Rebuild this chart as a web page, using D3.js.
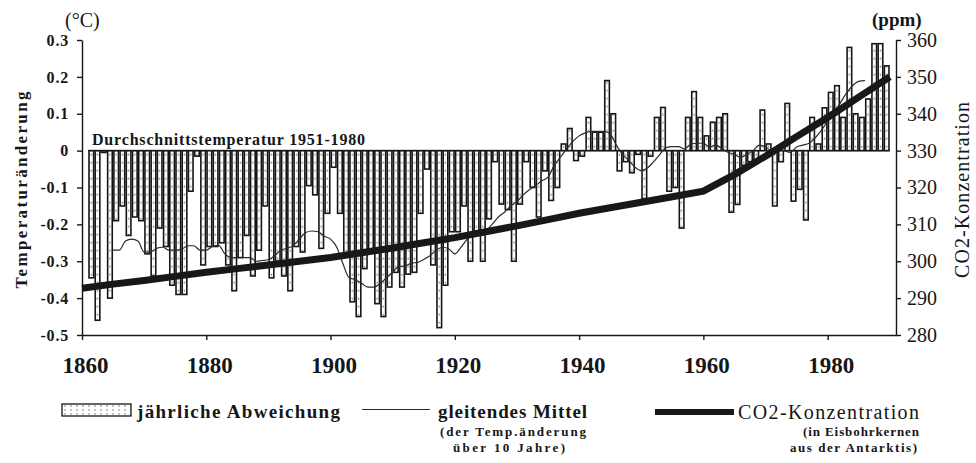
<!DOCTYPE html>
<html>
<head>
<meta charset="utf-8">
<script src="https://cdn.jsdelivr.net/npm/d3@7"></script>
<style>
body { margin: 0; background: #fff; }
svg { font-family: "Liberation Serif", "Times New Roman", serif; }
</style>
</head>
<body>
<script>
// jährliche Abweichung (°C), ein Wert je Jahr ab 1861
var firstBarYear = 1861;
var anomalies = [
    -0.345,-0.46,-0.005,-0.40,-0.19,-0.15,-0.23,-0.18,-0.19,-0.28,
    -0.34,-0.21,-0.26,-0.365,-0.39,-0.39,-0.11,-0.015,-0.31,-0.26,
    -0.26,-0.25,-0.31,-0.38,-0.29,-0.23,-0.34,-0.27,-0.15,-0.345,
    -0.30,-0.34,-0.38,-0.26,-0.275,-0.095,-0.12,-0.265,-0.17,-0.045,
    -0.17,-0.28,-0.41,-0.45,-0.32,-0.27,-0.415,-0.45,-0.37,-0.33,
    -0.37,-0.335,-0.33,-0.17,-0.05,-0.31,-0.48,-0.365,-0.22,-0.22,
    -0.15,-0.30,-0.22,-0.30,-0.185,-0.03,-0.145,-0.16,-0.30,-0.145,
    -0.03,-0.10,-0.18,-0.055,-0.135,-0.10,0.018,0.06,-0.027,-0.015,
    0.09,0.05,0.05,0.19,0.10,-0.055,-0.03,-0.06,-0.01,-0.13,
    -0.015,0.09,0.117,-0.11,-0.10,-0.21,0.09,0.16,0.09,0.04,
    0.077,0.09,0.10,-0.167,-0.146,-0.04,-0.03,-0.03,0.11,0.018,
    -0.15,-0.03,0.128,-0.137,-0.105,-0.188,0.09,0.018,0.116,0.158,
    0.176,0.09,0.28,0.10,0.09,0.14,0.29,0.29,0.23
];

// gleitendes Mittel über 10 Jahre, ab 1865
var maFirstYear = 1865;
var movingAvg = [
    -0.27,-0.27,-0.245,-0.24,-0.245,-0.275,
    -0.275,-0.265,-0.262,-0.27,-0.27,-0.268,-0.258,-0.258,-0.27,-0.27,
    -0.26,-0.257,-0.28,-0.29,-0.29,-0.29,-0.29,-0.30,-0.298,-0.296,
    -0.285,-0.27,-0.265,-0.257,-0.24,-0.222,-0.218,-0.22,-0.232,-0.24,
    -0.262,-0.307,-0.345,-0.35,-0.36,-0.37,-0.37,-0.36,-0.345,-0.33,
    -0.314,-0.313,-0.305,-0.303,-0.295,-0.285,-0.27,-0.262,-0.266,-0.28,
    -0.262,-0.24,-0.226,-0.222,-0.217,-0.2,-0.18,-0.167,-0.15,-0.138,
    -0.12,-0.106,-0.095,-0.082,-0.072,-0.04,-0.018,0.005,0.025,0.04,
    0.048,0.052,0.052,0.052,0.045,0.015,-0.01,-0.027,-0.045,-0.054,
    -0.047,-0.03,-0.01,0.008,0.011,0.011,0.005,0.018,0.02,0.02,
    0.01,0.015,0.005,-0.005,-0.01,-0.018,-0.01,0,0.015,0.01,
    0,0.005,0,-0.005,0.01,0.015,0.02,0.035,0.055,0.08,
    0.1,0.128,0.155,0.176,0.188,0.19
];

// CO2-Konzentration (ppm)
var co2Years  = [1860,1865,1870,1875,1880,1885,1890,1895,1900,1905,1910,1915,1920,1925,
                 1930,1935,1940,1945,1950,1955,1960,1965,1970,1975,1980,1985,1990];
var co2Values = [292.7,293.8,294.8,295.9,297,298,299,300,301,302.3,303.6,305,306.4,308,
                 309.6,311.3,313,314.5,316,317.5,319,323.5,328.5,333.8,339,344.5,350];

var yearTicks = [1860,1880,1900,1920,1940,1960,1980];
var tempTicks = [0.3,0.2,0.1,0,-0.1,-0.2,-0.3,-0.4,-0.5];
var tempTickLabels = ["0.3","0.2","0.1","0","-0.1","-0.2","-0.3","-0.4","-0.5"];
var co2Ticks = [280,290,300,310,320,330,340,350,360];

var width = 976, height = 463;
var plot = {left:82, right:896, top:40, bottom:335};
var ink = "#161616";

var svg = d3.select("body").append("svg")
    .attr("width", width)
    .attr("height", height);

//SCALES
var xScale = d3.scaleLinear().domain([1860,1991]).range([plot.left, plot.right]);
var yTemp = d3.scaleLinear().domain([-0.5,0.3]).range([plot.bottom, plot.top]);
var yCo2 = d3.scaleLinear().domain([280,360]).range([plot.bottom, plot.top]);
var step = xScale(1861) - xScale(1860);

// dotted fill for the bars
var defs = svg.append("defs");
var pat = defs.append("pattern").attr("id","dots")
    .attr("patternUnits","userSpaceOnUse")
    .attr("x", plot.left).attr("y", yTemp(0))
    .attr("width", step).attr("height", 8);
pat.append("rect").attr("width", step).attr("height", 8).attr("fill", "#fff");
pat.append("circle").attr("cx", step/2).attr("cy", 4).attr("r", 0.85).attr("fill", "#666");

var patL = defs.append("pattern").attr("id","dotsLegend")
    .attr("patternUnits","userSpaceOnUse")
    .attr("x", 62).attr("y", 404)
    .attr("width", 6).attr("height", 4);
patL.append("rect").attr("width", 6).attr("height", 4).attr("fill", "#fff");
patL.append("circle").attr("cx", 3).attr("cy", 2).attr("r", 0.75).attr("fill", "#666");

var bars = anomalies.map(function(v, i){ return {year: firstBarYear + i, value: v}; });
var ma = movingAvg.map(function(v, i){ return {year: maFirstYear + i, value: v}; });
var co2 = co2Years.map(function(y, i){ return {year: y, value: co2Values[i]}; });

//BARS
svg.append("g").attr("class","bars")
    .selectAll("rect")
    .data(bars)
    .enter().append("rect")
        .attr("x", function(d){ return xScale(d.year) + 0.8; })
        .attr("width", step - 1.6)
        .attr("y", function(d){ return Math.min(yTemp(d.value), yTemp(0)); })
        .attr("height", function(d){ return Math.abs(yTemp(d.value) - yTemp(0)); })
        .attr("fill", "url(#dots)")
        .attr("stroke", ink)
        .attr("stroke-width", 1.6);

// zero line
svg.append("line")
    .attr("x1", xScale(firstBarYear)).attr("x2", xScale(firstBarYear + anomalies.length))
    .attr("y1", yTemp(0)).attr("y2", yTemp(0))
    .attr("stroke", ink).attr("stroke-width", 1.4);

//LINES
var maLine = d3.line()
    .x(function(d){ return xScale(d.year); })
    .y(function(d){ return yTemp(d.value); })
    .curve(d3.curveMonotoneX);

svg.append("path").datum(ma)
    .attr("d", maLine)
    .attr("fill", "none").attr("stroke", "#2a2a2a").attr("stroke-width", 1.2);

var co2Line = d3.line()
    .x(function(d){ return xScale(d.year); })
    .y(function(d){ return yCo2(d.value); });

svg.append("path").datum(co2)
    .attr("d", co2Line)
    .attr("fill", "none").attr("stroke", "#181818").attr("stroke-width", 7);

//AXES
function styleAxis(g){
    g.attr("font-family", null).attr("font-size", null);
    g.select(".domain").attr("stroke", ink).attr("stroke-width", 1.4);
    g.selectAll(".tick line").attr("stroke", ink).attr("stroke-width", 1.4);
    g.selectAll(".tick text").attr("fill", ink);
}

var axL = svg.append("g")
    .attr("transform", "translate(" + plot.left + ",0)")
    .call(d3.axisLeft(yTemp).tickValues(tempTicks).tickSize(5).tickSizeOuter(0).tickPadding(8)
        .tickFormat(function(d, i){ return tempTickLabels[i]; }))
    .call(styleAxis);
axL.selectAll(".tick text").attr("font-size", 16).attr("font-weight", "bold").attr("letter-spacing", 0.8);

var axR = svg.append("g")
    .attr("transform", "translate(" + plot.right + ",0)")
    .call(d3.axisRight(yCo2).tickValues(co2Ticks).tickSize(5).tickSizeOuter(0).tickPadding(6))
    .call(styleAxis);
axR.selectAll(".tick text").attr("font-size", 20);

var axB = svg.append("g")
    .attr("transform", "translate(0," + plot.bottom + ")")
    .call(d3.axisBottom(xScale).tickValues(yearTicks).tickSize(5).tickSizeOuter(0).tickPadding(17)
        .tickFormat(d3.format("d")))
    .call(styleAxis);
axB.selectAll(".tick text").attr("font-size", 23).attr("font-weight", "bold").attr("dx", 3);

//TEXTS
svg.append("text").attr("x", 65).attr("y", 27)
    .attr("font-size", 20).attr("fill", ink).text("(°C)");
svg.append("text").attr("x", 872).attr("y", 26)
    .attr("font-size", 19).attr("font-weight", "bold").attr("fill", ink).text("(ppm)");

svg.append("text")
    .attr("transform", "translate(27,190) rotate(-90)")
    .attr("text-anchor", "middle")
    .attr("font-size", 17).attr("font-weight", "bold").attr("fill", ink)
    .attr("textLength", 197)
    .text("Temperaturänderung");

svg.append("text")
    .attr("transform", "translate(969,190) rotate(-90)")
    .attr("text-anchor", "middle")
    .attr("font-size", 20).attr("fill", ink)
    .attr("textLength", 176)
    .text("CO2-Konzentration");

svg.append("text").attr("x", 92).attr("y", 145)
    .attr("font-size", 16).attr("font-weight", "bold").attr("fill", ink)
    .attr("textLength", 273)
    .text("Durchschnittstemperatur 1951-1980");

//LEGEND
var leg = svg.append("g").attr("fill", ink);
leg.append("rect").attr("x", 62).attr("y", 404).attr("width", 69).attr("height", 12)
    .attr("fill", "url(#dotsLegend)").attr("stroke", ink).attr("stroke-width", 1.3);
leg.append("text").attr("x", 137).attr("y", 418)
    .attr("font-size", 19).attr("font-weight", "bold").attr("textLength", 203)
    .text("jährliche Abweichung");

leg.append("line").attr("x1", 362).attr("x2", 430).attr("y1", 409.5).attr("y2", 409.5)
    .attr("stroke", "#2a2a2a").attr("stroke-width", 1.2);
leg.append("text").attr("x", 438).attr("y", 418)
    .attr("font-size", 19).attr("font-weight", "bold").attr("textLength", 149)
    .text("gleitendes Mittel");
leg.append("text").attr("x", 513).attr("y", 436).attr("text-anchor", "middle")
    .attr("font-size", 13).attr("font-weight", "bold").attr("textLength", 146)
    .text("(der Temp.änderung");
leg.append("text").attr("x", 509).attr("y", 452).attr("text-anchor", "middle")
    .attr("font-size", 13).attr("font-weight", "bold").attr("textLength", 112)
    .text("über 10 Jahre)");

leg.append("line").attr("x1", 655).attr("x2", 734).attr("y1", 412).attr("y2", 412)
    .attr("stroke", "#181818").attr("stroke-width", 6);
leg.append("text").attr("x", 738).attr("y", 419)
    .attr("font-size", 20).attr("textLength", 181)
    .text("CO2-Konzentration");
leg.append("text").attr("x", 919).attr("y", 436).attr("text-anchor", "end")
    .attr("font-size", 13).attr("font-weight", "bold").attr("textLength", 116)
    .text("(in Eisbohrkernen");
leg.append("text").attr("x", 917).attr("y", 452).attr("text-anchor", "end")
    .attr("font-size", 13).attr("font-weight", "bold").attr("textLength", 127)
    .text("aus der Antarktis)");
</script>
</body>
</html>
